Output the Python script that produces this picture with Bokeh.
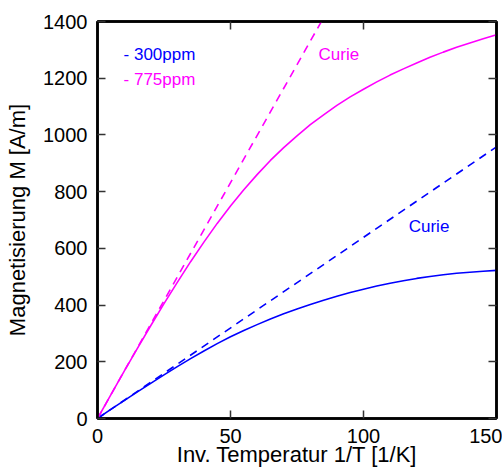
import numpy as np
from bokeh.plotting import figure
from bokeh.models import Range1d, LinearAxis, FixedTicker, Label
from bokeh.embed import file_html
from bokeh.resources import INLINE

# Data
inv_T = [0, 5, 10, 15, 20, 25, 30, 35, 40, 45, 50, 55, 60, 65, 70, 75,
         80, 85, 90, 95, 100, 105, 110, 115, 120, 125, 130, 135, 140, 145, 150]
m_300 = [0, 32, 63, 94, 124, 154, 183, 211, 238, 264, 288, 310, 331, 351, 369, 386,
         402, 417, 431, 444, 456, 467, 477, 486, 494, 501, 507, 512, 516, 519.5, 522.5]
m_775 = [0, 83, 166, 247, 327, 405, 480, 553, 622, 688, 749, 807, 860, 910, 955, 997,
         1036, 1071, 1104, 1134, 1161, 1187, 1211, 1233, 1254, 1274, 1292, 1309, 1324, 1339, 1353]
curie_x = [0, 150]
curie_300 = [0, 958]
curie_775 = [0, 2495]
x_ticks = [0, 50, 100, 150]
y_ticks = [0, 200, 400, 600, 800, 1000, 1200, 1400]

BLUE = "#0000ff"
MAG = "#ff00ff"
FONT = "Liberation Sans"

p = figure(width=502, height=474, x_range=Range1d(0, 150), y_range=Range1d(0, 1400),
           output_backend="svg", toolbar_location=None,
           min_border_left=97, min_border_right=6, min_border_top=21, min_border_bottom=56)
p.xgrid.visible = False
p.ygrid.visible = False
p.outline_line_color = "black"
p.outline_line_width = 2.5
p.background_fill_color = "white"
p.border_fill_color = "white"

def style_axis(ax, ticks, show_labels):
    ax.ticker = FixedTicker(ticks=ticks)
    ax.minor_tick_line_color = None
    ax.major_tick_in = 8
    ax.major_tick_out = 0
    ax.major_tick_line_color = "#333333"
    ax.major_tick_line_width = 1.5
    ax.axis_line_color = "black"
    ax.axis_line_width = 2.5
    ax.major_label_text_font = FONT
    ax.major_label_text_color = "black"
    ax.axis_label_text_font = FONT
    ax.axis_label_text_font_style = "normal"
    ax.axis_label_text_color = "black"
    if show_labels:
        ax.major_label_text_font_size = "20px"
    else:
        ax.major_label_text_font_size = "1px"
        ax.major_label_standoff = 0
        ax.major_label_overrides = {t: "" for t in ticks}

xa = p.xaxis[0]
style_axis(xa, x_ticks, True)
xa.major_label_standoff = 10
xa.axis_label = "Inv. Temperatur 1/T [1/K]"
xa.axis_label_text_font_size = "22px"
xa.axis_label_standoff = -4

ya = p.yaxis[0]
style_axis(ya, y_ticks, True)
ya.major_label_standoff = 10
ya.axis_label = "Magnetisierung M [A/m]"
ya.axis_label_text_font_size = "22px"
ya.axis_label_standoff = 10

top = LinearAxis()
style_axis(top, x_ticks, False)
p.add_layout(top, "above")
right = LinearAxis()
style_axis(right, y_ticks, False)
p.add_layout(right, "right")

# Curves
p.line(inv_T, m_300, line_color=BLUE, line_width=1.6)
p.line(inv_T, m_775, line_color=MAG, line_width=1.6)
p.line(curie_x, curie_300, line_color=BLUE, line_width=1.6, line_dash="8 6")
p.line(curie_x, curie_775, line_color=MAG, line_width=1.6, line_dash="8 6")

def lab(x, y, text, color):
    p.add_layout(Label(x=x, y=y, text=text, text_color=color, text_font=FONT,
                       text_font_size="17px", text_align="left",
                       text_baseline="alphabetic"))

# legend-like texts and curve annotations
lab(9.8, 1284, "- 300ppm", BLUE)
lab(9.8, 1196, "- 775ppm", MAG)
lab(83.1, 1284, "Curie", MAG)
lab(117.0, 678, "Curie", BLUE)

open("out.html", "w").write(file_html(p, INLINE))
